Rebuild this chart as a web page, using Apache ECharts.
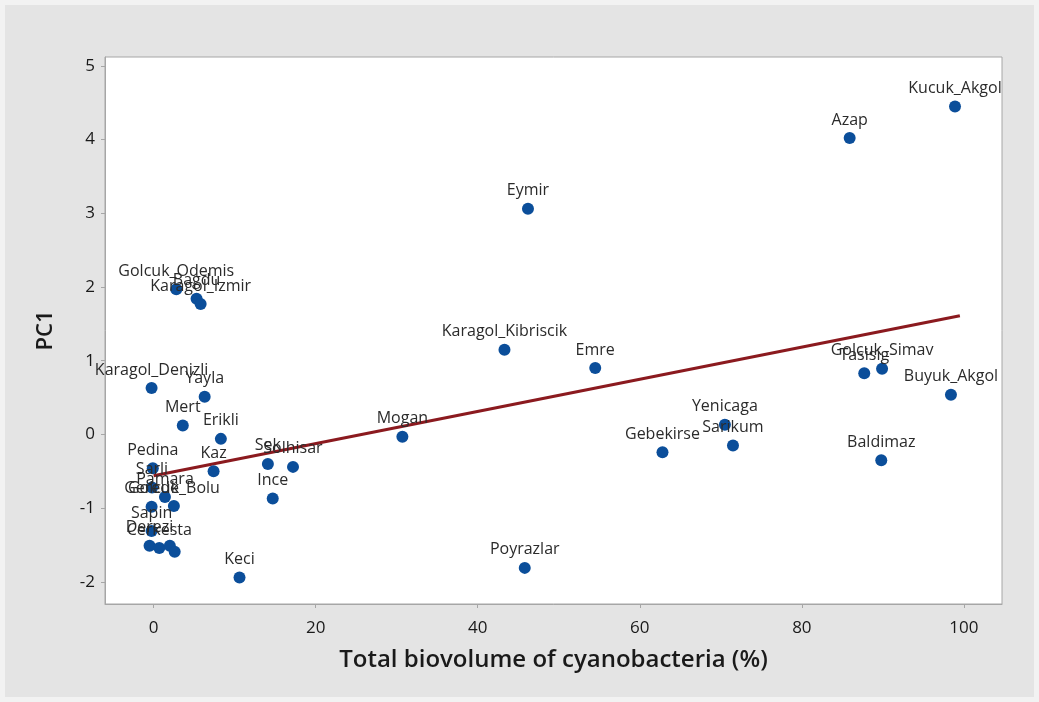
<!DOCTYPE html>
<html>
<head>
<meta charset="utf-8">
<script src="https://cdn.jsdelivr.net/npm/echarts@6/dist/echarts.min.js"></script>
<style>
  html, body { margin: 0; padding: 0; background: #f2f2f2; }
  #main { position: absolute; left: 5px; top: 5px; width: 1029px; height: 692px; background: #e4e4e4; }
</style>
</head>
<body>
<div id="main"></div>
<script>
// lake names, cyanobacteria share (%) and PC1 score
var lakeNames = ['Kucuk_Akgol', 'Azap', 'Eymir', 'Golcuk_Odemis', 'Bagdu', 'Karagol_Izmir',
  'Karagol_Kibriscik', 'Emre', 'Mogan', 'Gebekirse', 'Yenicaga', 'Sarikum', 'Poyrazlar',
  'Golcuk_Simav', 'Tasisig', 'Buyuk_Akgol', 'Baldimaz', 'Karagol_Denizli', 'Yayla', 'Mert',
  'Erikli', 'Kaz', 'Sek', 'Solhisar', 'Ince', 'Keci', 'Pedina', 'Sarli', 'Pamara', 'Gerede',
  'Golcuk_Bolu', 'Sapin', 'Derezi', 'Cerkesta', '', ''];
var cyanoPct = [98.9, 85.9, 46.2, 2.8, 5.3, 5.8,
  43.3, 54.5, 30.7, 62.8, 70.5, 71.5, 45.8,
  89.9, 87.7, 98.4, 89.8, -0.25, 6.3, 3.6,
  8.3, 7.4, 14.1, 17.2, 14.7, 10.6, -0.1, -0.2, 1.4, -0.25,
  2.5, -0.25, -0.5, 0.7, 2.0, 2.6];
var pc1 = [4.45, 4.02, 3.06, 1.97, 1.84, 1.77,
  1.15, 0.90, -0.03, -0.24, 0.13, -0.15, -1.81,
  0.89, 0.83, 0.54, -0.35, 0.63, 0.51, 0.12,
  -0.06, -0.50, -0.40, -0.44, -0.87, -1.94, -0.46, -0.72, -0.85, -0.98,
  -0.97, -1.31, -1.51, -1.54, -1.51, -1.59];
// fitted line end points
var fitX = [0, 99.5];
var fitY = [-0.56, 1.61];
var xTicks = [0, 20, 40, 60, 80, 100];
var yTicks = [-2, -1, 0, 1, 2, 3, 4, 5];

var points = [];
for (var i = 0; i < lakeNames.length; i++) {
  points.push({ name: lakeNames[i], value: [cyanoPct[i], pc1[i]] });
}
var fitLine = [];
for (var j = 0; j < fitX.length; j++) {
  fitLine.push([fitX[j], fitY[j]]);
}

var axisFont = 'Open Sans, DejaVu Sans, sans-serif';
var chart = echarts.init(document.getElementById('main'));
chart.setOption({
  animation: false,
  grid: { left: 100, top: 52, right: 32, bottom: 93, backgroundColor: '#ffffff', show: true, borderColor: '#a6a6a6', borderWidth: 1 },
  xAxis: {
    type: 'value', min: -6, max: 104.7,
    name: 'Total biovolume of cyanobacteria (%)', nameLocation: 'middle', nameGap: 44,
    nameTextStyle: { fontFamily: axisFont, fontSize: 24, fontWeight: 600, color: '#1a1a1a' },
    axisLine: { show: true, onZero: false, lineStyle: { color: '#a6a6a6' } },
    axisTick: { show: true, length: 4, customValues: xTicks, lineStyle: { color: '#a6a6a6' } },
    axisLabel: { customValues: xTicks, fontFamily: axisFont, fontSize: 17, color: '#1a1a1a', margin: 16 },
    splitLine: { show: false }
  },
  yAxis: {
    type: 'value', min: -2.3, max: 5.12,
    name: 'PC1', nameLocation: 'middle', nameGap: 48,
    nameTextStyle: { fontFamily: axisFont, fontSize: 22, fontWeight: 600, color: '#1a1a1a' },
    axisLine: { show: true, onZero: false, lineStyle: { color: '#a6a6a6' } },
    axisTick: { show: true, length: 4, customValues: yTicks, lineStyle: { color: '#a6a6a6' } },
    axisLabel: { customValues: yTicks, fontFamily: axisFont, fontSize: 17, color: '#1a1a1a', margin: 10 },
    splitLine: { show: false }
  },
  series: [{
    type: 'line',
    data: fitLine,
    symbol: 'none',
    lineStyle: { color: '#8b1a1f', width: 3 },
    z: 1
  }, {
    type: 'scatter',
    data: points,
    symbolSize: 12,
    itemStyle: { color: '#0b4e9a', opacity: 1 },
    label: {
      show: true, position: 'top', distance: 4,
      formatter: function (p) { return p.name; },
      fontFamily: axisFont, fontSize: 16, color: '#2b2b2b'
    },
    labelLayout: { hideOverlap: false },
    z: 2
  }]
});
</script>
</body>
</html>
